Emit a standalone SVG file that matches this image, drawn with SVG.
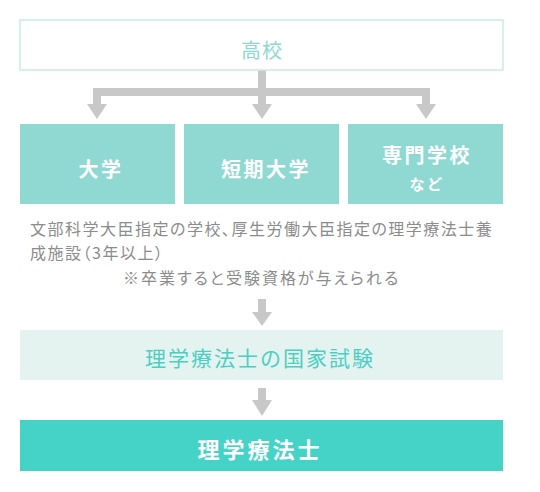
<svg xmlns="http://www.w3.org/2000/svg" width="540" height="492" viewBox="0 0 540 492">
<defs>
<style>
text{font-family:"Noto Sans CJK JP","Noto Sans CJK SC",sans-serif;text-anchor:middle}
.arrow{fill:#c8c8c8}
.mid rect{fill:#90d9d3}
.mid text{fill:#fff;font-weight:bold;font-size:20px;letter-spacing:2.5px}
.desc{fill:#8c8c8c;font-size:16px;text-anchor:start;font-feature-settings:"palt";letter-spacing:1.5px}
</style>
</defs>
<g id="connectors">
<rect class="arrow" x="258" y="70" width="8" height="22"/>
<rect class="arrow" x="93" y="88" width="337" height="8"/>
<rect class="arrow" x="93" y="88" width="8" height="16"/>
<rect class="arrow" x="258" y="88" width="8" height="16"/>
<rect class="arrow" x="422" y="88" width="8" height="16"/>
<polygon class="arrow" points="87,104 107,104 97,119"/>
<polygon class="arrow" points="252,104 272,104 262,119"/>
<polygon class="arrow" points="416,104 436,104 426,119"/>
<rect class="arrow" x="258" y="299" width="8" height="13"/>
<polygon class="arrow" points="252,312 272,312 262,326"/>
<rect class="arrow" x="258" y="388" width="8" height="12"/>
<polygon class="arrow" points="252,400 272,400 262,416"/>
</g>
<g id="koukou">
<rect x="20" y="20" width="483" height="50" fill="#fff" stroke="#c6ecea" stroke-width="1.5"/>
<text x="262" y="58" font-size="20" fill="#8ed8d2" letter-spacing="1">高校</text>
</g>
<g id="daigaku" class="mid">
<rect x="20" y="124" width="155" height="80"/>
<text x="101" y="177">大学</text>
</g>
<g id="tanki" class="mid">
<rect x="184" y="124" width="155" height="80"/>
<text x="266" y="177">短期大学</text>
</g>
<g id="senmon" class="mid">
<rect x="348" y="124" width="155" height="80"/>
<text x="427" y="163">専門学校</text>
<text x="427" y="190" style="font-size:15px">など</text>
</g>
<g id="note">
<text class="desc" x="30" y="235">文部科学大臣指定の学校、厚生労働大臣指定の理学療法士養</text>
<text class="desc" x="30" y="259">成施設（3年以上）</text>
<text class="desc" x="123" y="284" style="letter-spacing:2px">※卒業すると受験資格が与えられる</text>
</g>
<g id="exam">
<rect x="20" y="330" width="483" height="50" fill="#e4f3f0"/>
<text x="260" y="366" font-size="21" fill="#4ccfc3" letter-spacing="2">理学療法士の国家試験</text>
</g>
<g id="pt">
<rect x="20" y="420" width="483" height="51" fill="#45d3c7"/>
<text x="260" y="458" font-size="22" font-weight="bold" fill="#fff" letter-spacing="3">理学療法士</text>
</g>
</svg>
